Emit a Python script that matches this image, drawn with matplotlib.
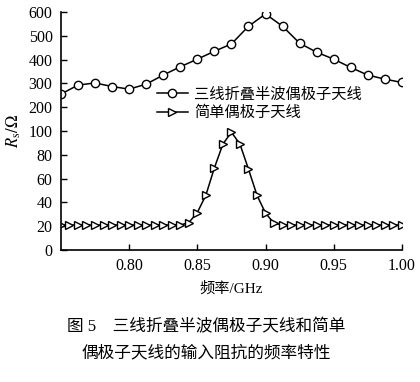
import numpy as np
import matplotlib
matplotlib.use('Agg')
import matplotlib.pyplot as plt

plt.rcParams['font.family'] = ['Liberation Serif', 'Noto Sans CJK SC']
plt.rcParams['mathtext.fontset'] = 'stix'

# 三线折叠半波偶极子天线 (circles), step 0.0125 GHz
f_fold = np.linspace(0.75, 1.00, 21)
r_fold = [255, 293, 302, 287, 276, 297, 335, 370, 402, 435, 466,
          540, 592, 540, 469, 431, 402, 367, 335, 318, 304]

# 简单偶极子天线 (triangles), step 0.00625 GHz
f_simple = np.linspace(0.75, 1.00, 41)
r_simple = [21, 21, 21, 21, 21, 21, 21, 21, 21, 21, 21, 21, 21, 21, 21,
            23, 31.5, 46, 69, 89, 99, 89, 68, 46, 31, 22.5,
            21, 21, 21, 21, 21, 21, 21, 21, 21, 21, 21, 21, 21, 21, 21]

xticks = [0.80, 0.85, 0.90, 0.95, 1.00]
yticks = [0, 20, 40, 60, 80, 100, 200, 300, 400, 500, 600]


def fwd(y):
    y = np.asarray(y, dtype=float)
    return np.where(y <= 100, y, 100 + (y - 100) / 5)


def inv(t):
    t = np.asarray(t, dtype=float)
    return np.where(t <= 100, t, 100 + (t - 100) * 5)


fig = plt.figure(figsize=(4.2, 3.82), dpi=100)
ax = fig.add_axes([0.145, 0.3455, 0.812, 0.623])
ax.set_yscale('function', functions=(fwd, inv))

ax.plot(f_fold, r_fold, color='black', lw=1.1, marker='o', ms=6,
        mfc='white', mec='black', mew=1.0, label='三线折叠半波偶极子天线')
ax.plot(f_simple, r_simple, color='black', lw=1.1, marker='>', ms=5.5,
        mfc='white', mec='black', mew=1.0, label='简单偶极子天线')

ax.set_xlim(0.75, 1.00)
ax.set_ylim(0, 600)
ax.set_xticks(xticks)
ax.set_xticklabels(['%.2f' % v for v in xticks])
ax.set_yticks(yticks)
ax.set_yticklabels([str(v) for v in yticks])
ax.minorticks_off()
ax.tick_params(direction='in', length=4, width=1, labelsize=11.5, pad=6)
for s in ['top', 'right']:
    ax.spines[s].set_visible(False)
for s in ['left', 'bottom']:
    ax.spines[s].set_linewidth(1.2)

ax.set_xlabel('频率/GHz', fontsize=11, labelpad=5)
ax.set_ylabel(r'$R_\mathrm{s}/\Omega$', fontsize=12, labelpad=2)
ax.yaxis.set_label_coords(-0.11, 0.5)

ax.legend(loc='center left', bbox_to_anchor=(0.26, 0.615), frameon=False,
          fontsize=11, handlelength=2.0, handletextpad=0.4,
          labelspacing=0.25, borderpad=0)

fig.text(0.49, 0.144, '图 5    三线折叠半波偶极子天线和简单', ha='center',
         va='center', fontsize=12)
fig.text(0.49, 0.076, '偶极子天线的输入阻抗的频率特性', ha='center',
         va='center', fontsize=12)

fig.savefig('out.png', dpi=100)
